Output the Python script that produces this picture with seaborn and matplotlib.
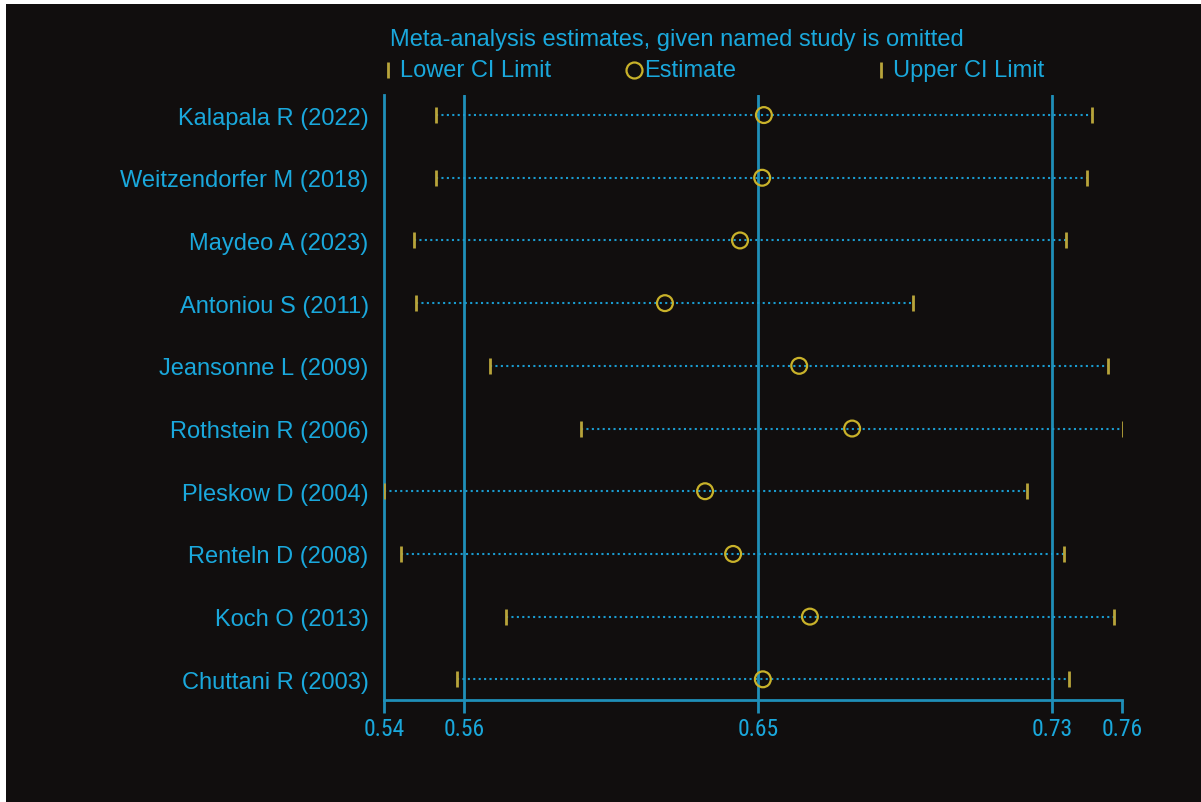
import matplotlib
matplotlib.use("Agg")
import matplotlib.pyplot as plt
from matplotlib import font_manager
from matplotlib.patches import Rectangle
from matplotlib.lines import Line2D
import seaborn as sns
import pandas as pd

# datos
studies = ["Kalapala R (2022)", "Weitzendorfer M (2018)", "Maydeo A (2023)",
           "Antoniou S (2011)", "Jeansonne L (2009)", "Rothstein R (2006)",
           "Pleskow D (2004)", "Renteln D (2008)", "Koch O (2013)", "Chuttani R (2003)"]
lower = [0.5568, 0.5568, 0.5504, 0.5510, 0.5724, 0.5987, 0.5418, 0.5467, 0.5770, 0.5629]
estimate = [0.6516, 0.6511, 0.6447, 0.6230, 0.6618, 0.6771, 0.6346, 0.6427, 0.6649, 0.6513]
upper = [0.7465, 0.7450, 0.7389, 0.6947, 0.7511, 0.7554, 0.7277, 0.7384, 0.7528, 0.7398]

# estimacion global e IC y extremos del eje
overall = [0.5649, 0.6499, 0.7349]
x_ticks = [0.5418, 0.5649, 0.6499, 0.7349, 0.7551]

title = "Meta-analysis estimates, given named study is omitted"

BG = "#110e0e"
TXT = "#1aa8dc"
LINE = "#1f8fb8"
DOT = "#1a9bcf"
CAP = "#b8a43a"
CIRC = "#c9b22a"

sns.set_theme(style="dark")
plt.rcParams["font.family"] = ["Liberation Sans", "DejaVu Sans"]

# buscar una fuente estrecha para las etiquetas del eje x
tick_font = font_manager.FontProperties(family="Liberation Sans", size=17)
for f in font_manager.fontManager.ttflist:
    fn = f.fname.lower()
    if ("narrow" in fn or "condensed" in fn) and "bold" not in fn and "italic" not in fn \
            and "oblique" not in fn and "light" not in fn:
        tick_font = font_manager.FontProperties(fname=f.fname, size=17)
        if "liberation" in fn:
            break

df = pd.DataFrame({"study": studies, "lower": lower, "estimate": estimate, "upper": upper})
df["pos"] = range(len(df))

fig = plt.figure(figsize=(12.01, 8.03), dpi=100)
fig.patch.set_facecolor("white")
fig.add_artist(Rectangle((6 / 1201, -0.01), 1.01, 1.01 - 5 / 803, transform=fig.transFigure,
                         facecolor=BG, edgecolor="none", zorder=-10))

ax = fig.add_axes([384 / 1201, 1 - 701 / 803, 738 / 1201, 605 / 803])
ax.set_facecolor(BG)

# lineas de referencia
for v in overall:
    ax.axvline(v, color=LINE, lw=2, zorder=1)

# IC punteado
ax.hlines(df["pos"], df["lower"], df["upper"], color=DOT, lw=1.5,
          linestyles=(0, (1, 1.6)), zorder=2)

# limites
ax.plot(df["lower"], df["pos"], ls="none", marker="|", ms=12, mew=2, color=CAP, zorder=3)
ax.plot(df["upper"], df["pos"], ls="none", marker="|", ms=12, mew=2, color=CAP, zorder=3)

# estimaciones
sns.scatterplot(data=df, x="estimate", y="pos", ax=ax, marker="o", s=130,
                facecolor="none", edgecolor=CIRC, linewidth=1.6, zorder=4, legend=False)

ax.set_xlim(x_ticks[0], x_ticks[-1])
ax.set_ylim(len(df) - 1 + 0.33, -0.32)
ax.set_yticks(df["pos"])
ax.set_yticklabels(df["study"], color=TXT, fontsize=17)
ax.set_xticks(x_ticks)
ax.set_xticklabels([f"{v:.2f}" for v in x_ticks], color=TXT, fontproperties=tick_font)
ax.tick_params(axis="y", length=0, pad=11)
ax.tick_params(axis="x", length=9.5, width=2, color=LINE, pad=3, bottom=True)
ax.set_xlabel("")
ax.set_ylabel("")
ax.grid(False)
for s in ["top", "right"]:
    ax.spines[s].set_visible(False)
for s in ["left", "bottom"]:
    ax.spines[s].set_visible(True)
    ax.spines[s].set_color(LINE)
    ax.spines[s].set_linewidth(2)

# leyenda manual
fig.text(390 / 1201, 1 - 40 / 803, title, color=TXT, fontsize=17, va="center", ha="left")
ly = 1 - 71 / 803
fig.add_artist(Line2D([388 / 1201], [ly], marker="|", ms=12, mew=2, color=CAP, ls="none"))
fig.text(400 / 1201, ly, "Lower CI Limit", color=TXT, fontsize=17, va="center")
fig.add_artist(Line2D([634 / 1201], [ly], marker="o", ms=11.5, mew=1.6, mfc="none",
                      mec=CIRC, ls="none"))
fig.text(644 / 1201, ly, "Estimate", color=TXT, fontsize=17, va="center")
fig.add_artist(Line2D([881 / 1201], [ly], marker="|", ms=12, mew=2, color=CAP, ls="none"))
fig.text(893 / 1201, ly, "Upper CI Limit", color=TXT, fontsize=17, va="center")

fig.savefig("out.png", dpi=100, facecolor=fig.get_facecolor())
